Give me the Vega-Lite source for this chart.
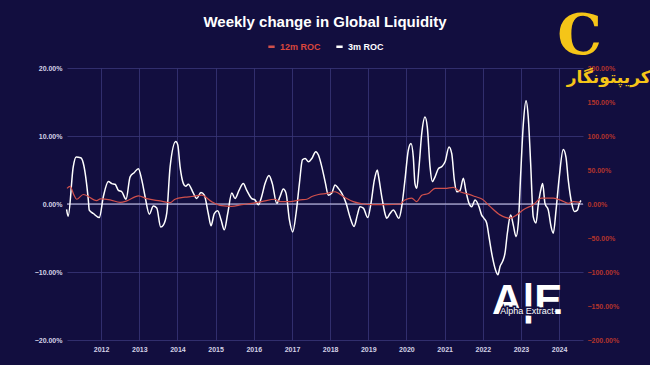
{
  "$schema": "https://vega.github.io/schema/vega-lite/v6.json",
  "autosize": "none",
  "width": 516,
  "height": 272,
  "padding": {"left": 67, "top": 68, "right": 67, "bottom": 25},
  "background": "#120e3f",
  "title": {
    "text": "Weekly change in Global Liquidity",
    "anchor": "middle",
    "frame": "group",
    "offset": -21,
    "font": "Liberation Sans",
    "fontSize": 15,
    "fontWeight": "bold",
    "color": "#ffffff"
  },
  "config": {
    "view": {"stroke": null},
    "font": "Liberation Sans",
    "axis": {
      "labelFont": "Liberation Sans",
      "labelFontSize": 7,
      "labelFontWeight": "bold",
      "labelColor": "#d4d2e6",
      "domain": false,
      "ticks": false,
      "gridColor": "#3a3778",
      "gridWidth": 0.8,
      "title": null
    }
  },
  "datasets": {
    "roc3m": [
      {"date": "2011-02-05", "value": -0.8},
      {"date": "2011-02-20", "value": -1.8},
      {"date": "2011-04-10", "value": 5.5},
      {"date": "2011-05-07", "value": 6.9},
      {"date": "2011-06-20", "value": 6.8},
      {"date": "2011-07-15", "value": 6.0},
      {"date": "2011-09-01", "value": 0.6},
      {"date": "2011-09-10", "value": -0.9},
      {"date": "2011-10-19", "value": -1.4},
      {"date": "2011-12-15", "value": -2.0},
      {"date": "2012-01-23", "value": 1.1},
      {"date": "2012-03-11", "value": 3.3},
      {"date": "2012-04-13", "value": 3.0},
      {"date": "2012-05-14", "value": 2.9},
      {"date": "2012-06-15", "value": 2.0},
      {"date": "2012-07-17", "value": 1.8},
      {"date": "2012-08-27", "value": 0.7},
      {"date": "2012-10-05", "value": 4.0},
      {"date": "2012-11-12", "value": 4.6},
      {"date": "2012-12-23", "value": 5.2},
      {"date": "2013-01-25", "value": 3.5},
      {"date": "2013-02-25", "value": 1.1},
      {"date": "2013-04-07", "value": -1.5},
      {"date": "2013-05-15", "value": -0.3},
      {"date": "2013-06-17", "value": -0.6},
      {"date": "2013-07-25", "value": -3.4},
      {"date": "2013-08-19", "value": -3.1},
      {"date": "2013-09-21", "value": -1.3},
      {"date": "2013-10-23", "value": 5.5},
      {"date": "2013-12-16", "value": 9.2},
      {"date": "2014-01-04", "value": 8.7},
      {"date": "2014-01-26", "value": 5.5},
      {"date": "2014-02-27", "value": 3.0},
      {"date": "2014-03-21", "value": 2.6},
      {"date": "2014-04-15", "value": 2.9},
      {"date": "2014-06-02", "value": 1.6},
      {"date": "2014-07-04", "value": 0.8},
      {"date": "2014-08-14", "value": 1.7},
      {"date": "2014-09-15", "value": 1.3},
      {"date": "2014-10-23", "value": -1.4},
      {"date": "2014-11-18", "value": -3.2},
      {"date": "2014-12-20", "value": -1.4},
      {"date": "2015-01-21", "value": -1.0},
      {"date": "2015-02-22", "value": -2.3},
      {"date": "2015-03-25", "value": -3.8},
      {"date": "2015-04-27", "value": -1.4},
      {"date": "2015-06-05", "value": 1.6},
      {"date": "2015-07-06", "value": 0.8},
      {"date": "2015-08-13", "value": 2.0},
      {"date": "2015-09-23", "value": 3.0},
      {"date": "2015-10-26", "value": 2.0},
      {"date": "2015-12-13", "value": 0.8},
      {"date": "2016-01-13", "value": 0.6},
      {"date": "2016-02-14", "value": -0.1},
      {"date": "2016-03-17", "value": 1.1},
      {"date": "2016-04-18", "value": 3.0},
      {"date": "2016-05-26", "value": 4.2},
      {"date": "2016-06-27", "value": 3.0},
      {"date": "2016-08-08", "value": 0.1},
      {"date": "2016-09-09", "value": 1.1},
      {"date": "2016-10-10", "value": 2.2},
      {"date": "2016-11-05", "value": 1.6},
      {"date": "2016-12-07", "value": -2.3},
      {"date": "2017-01-08", "value": -4.1},
      {"date": "2017-02-09", "value": -1.4},
      {"date": "2017-03-13", "value": 3.0},
      {"date": "2017-04-11", "value": 6.5},
      {"date": "2017-05-07", "value": 6.7},
      {"date": "2017-06-08", "value": 6.2},
      {"date": "2017-07-10", "value": 6.7},
      {"date": "2017-08-17", "value": 7.7},
      {"date": "2017-09-11", "value": 7.2},
      {"date": "2017-10-13", "value": 5.5},
      {"date": "2017-11-14", "value": 3.3},
      {"date": "2017-12-15", "value": 1.3},
      {"date": "2018-01-17", "value": 1.6},
      {"date": "2018-02-17", "value": 2.8},
      {"date": "2018-03-21", "value": 2.3},
      {"date": "2018-04-22", "value": 1.6},
      {"date": "2018-06-03", "value": 0.1},
      {"date": "2018-07-10", "value": -1.9},
      {"date": "2018-08-18", "value": -3.3},
      {"date": "2018-09-19", "value": -1.6},
      {"date": "2018-10-14", "value": -0.4},
      {"date": "2018-11-15", "value": -0.6},
      {"date": "2018-12-27", "value": -2.0},
      {"date": "2019-01-27", "value": 0.1},
      {"date": "2019-02-28", "value": 3.5},
      {"date": "2019-03-29", "value": 5.0},
      {"date": "2019-04-07", "value": 4.3},
      {"date": "2019-05-10", "value": 1.1},
      {"date": "2019-06-10", "value": -1.4},
      {"date": "2019-06-27", "value": -2.1},
      {"date": "2019-07-28", "value": -1.4},
      {"date": "2019-08-29", "value": -0.9},
      {"date": "2019-10-22", "value": -2.1},
      {"date": "2019-11-17", "value": -0.4},
      {"date": "2019-12-18", "value": 3.5},
      {"date": "2020-01-19", "value": 7.9},
      {"date": "2020-02-14", "value": 8.9},
      {"date": "2020-03-07", "value": 6.9},
      {"date": "2020-03-23", "value": 3.0},
      {"date": "2020-04-09", "value": 2.3},
      {"date": "2020-05-01", "value": 5.5},
      {"date": "2020-05-27", "value": 10.4},
      {"date": "2020-06-27", "value": 12.8},
      {"date": "2020-07-19", "value": 11.3},
      {"date": "2020-08-14", "value": 5.5},
      {"date": "2020-09-05", "value": 3.3},
      {"date": "2020-10-01", "value": 4.0},
      {"date": "2020-11-02", "value": 5.2},
      {"date": "2020-12-04", "value": 5.5},
      {"date": "2021-01-05", "value": 6.2},
      {"date": "2021-02-12", "value": 8.4},
      {"date": "2021-03-10", "value": 7.4},
      {"date": "2021-04-04", "value": 3.5},
      {"date": "2021-04-27", "value": 1.8},
      {"date": "2021-05-28", "value": 2.0},
      {"date": "2021-06-29", "value": 3.8},
      {"date": "2021-07-22", "value": 2.0},
      {"date": "2021-08-22", "value": 0.1},
      {"date": "2021-09-17", "value": -0.4},
      {"date": "2021-10-19", "value": 0.6},
      {"date": "2021-11-26", "value": -0.4},
      {"date": "2021-12-20", "value": -1.6},
      {"date": "2022-01-12", "value": -2.1},
      {"date": "2022-02-07", "value": -2.8},
      {"date": "2022-03-01", "value": -4.8},
      {"date": "2022-04-02", "value": -7.7},
      {"date": "2022-05-03", "value": -9.7},
      {"date": "2022-05-26", "value": -10.4},
      {"date": "2022-06-15", "value": -9.2},
      {"date": "2022-07-11", "value": -8.4},
      {"date": "2022-08-02", "value": -7.2},
      {"date": "2022-08-24", "value": -4.3},
      {"date": "2022-09-25", "value": -1.6},
      {"date": "2022-10-20", "value": -3.1},
      {"date": "2022-11-15", "value": -4.8},
      {"date": "2022-12-07", "value": -2.8},
      {"date": "2022-12-30", "value": 4.5},
      {"date": "2023-01-24", "value": 11.8},
      {"date": "2023-02-19", "value": 15.2},
      {"date": "2023-03-12", "value": 12.8},
      {"date": "2023-04-04", "value": 6.0},
      {"date": "2023-04-29", "value": -1.9},
      {"date": "2023-05-25", "value": -2.8},
      {"date": "2023-06-16", "value": -0.1},
      {"date": "2023-07-09", "value": 2.0},
      {"date": "2023-07-28", "value": 3.0},
      {"date": "2023-08-19", "value": 0.1},
      {"date": "2023-09-20", "value": -0.9},
      {"date": "2023-10-16", "value": -3.3},
      {"date": "2023-11-07", "value": -4.3},
      {"date": "2023-12-03", "value": -0.9},
      {"date": "2024-01-03", "value": 4.0},
      {"date": "2024-02-10", "value": 8.0},
      {"date": "2024-03-07", "value": 6.9},
      {"date": "2024-03-29", "value": 3.5},
      {"date": "2024-05-01", "value": 0.1},
      {"date": "2024-05-26", "value": -1.1},
      {"date": "2024-06-24", "value": -0.9},
      {"date": "2024-07-13", "value": 0.1},
      {"date": "2024-07-29", "value": 0.5}
    ],
    "roc12m": [
      {"date": "2011-02-09", "value": 23},
      {"date": "2011-03-10", "value": 26},
      {"date": "2011-04-17", "value": 13},
      {"date": "2011-05-12", "value": 7},
      {"date": "2011-07-15", "value": 14},
      {"date": "2011-11-20", "value": 5},
      {"date": "2011-12-25", "value": 7.5},
      {"date": "2012-03-27", "value": 6},
      {"date": "2012-07-01", "value": 2.5},
      {"date": "2012-09-03", "value": 4.5},
      {"date": "2012-12-23", "value": 12},
      {"date": "2013-03-13", "value": 8},
      {"date": "2013-07-18", "value": 4.5},
      {"date": "2013-10-23", "value": 2},
      {"date": "2013-12-09", "value": 7},
      {"date": "2014-03-14", "value": 10},
      {"date": "2014-05-17", "value": 11},
      {"date": "2014-08-21", "value": 13},
      {"date": "2014-11-24", "value": 3.5},
      {"date": "2015-02-28", "value": -2.5},
      {"date": "2015-06-05", "value": -3.5},
      {"date": "2015-09-08", "value": -1},
      {"date": "2015-12-13", "value": 1},
      {"date": "2016-03-17", "value": 3.5},
      {"date": "2016-07-23", "value": 7},
      {"date": "2016-09-09", "value": 3.5},
      {"date": "2016-12-14", "value": 3.5},
      {"date": "2017-03-20", "value": 6},
      {"date": "2017-05-23", "value": 7},
      {"date": "2017-07-10", "value": 11},
      {"date": "2017-09-11", "value": 14},
      {"date": "2017-11-30", "value": 15.5},
      {"date": "2018-02-17", "value": 18},
      {"date": "2018-05-07", "value": 11},
      {"date": "2018-08-11", "value": 3.5},
      {"date": "2018-11-15", "value": 0},
      {"date": "2019-02-18", "value": -1},
      {"date": "2019-06-10", "value": -1},
      {"date": "2019-10-31", "value": 0},
      {"date": "2019-12-18", "value": 6},
      {"date": "2020-02-21", "value": 8.5},
      {"date": "2020-04-09", "value": 3.5},
      {"date": "2020-05-27", "value": 13},
      {"date": "2020-07-29", "value": 15.5},
      {"date": "2020-10-01", "value": 23},
      {"date": "2021-01-05", "value": 23},
      {"date": "2021-03-25", "value": 24.5},
      {"date": "2021-05-28", "value": 18},
      {"date": "2021-08-15", "value": 14.5},
      {"date": "2021-10-19", "value": 11},
      {"date": "2021-12-28", "value": 7},
      {"date": "2022-03-11", "value": -3.5},
      {"date": "2022-06-15", "value": -16},
      {"date": "2022-09-18", "value": -21},
      {"date": "2022-11-22", "value": -16},
      {"date": "2023-01-24", "value": -8.5},
      {"date": "2023-04-29", "value": -1},
      {"date": "2023-07-18", "value": 8.5},
      {"date": "2023-11-07", "value": 8.5},
      {"date": "2024-01-26", "value": 5},
      {"date": "2024-03-29", "value": 1},
      {"date": "2024-05-17", "value": 3.5},
      {"date": "2024-07-20", "value": 2.5}
    ],
    "marks": [
      {"label": "A|E", "date": "2023-03-01", "value": -14.2},
      {"label": "Alpha Extract", "date": "2023-03-01", "value": -15.75},
      {"label": "کریپتونگار", "date": "2025-04-20", "value": 18.6},
      {"label": "C", "date": "2024-07-15", "value": 24.5}
    ]
  },
  "encoding": {
    "x": {
      "field": "date",
      "type": "temporal",
      "scale": {"domain": ["2011-02-09", "2024-08-17"]},
      "axis": {
        "format": "%Y",
        "tickCount": {"interval": "year", "step": 1},
        "labelPadding": 5,
        "grid": true,
        "labelFlush": false,
        "labelOverlap": false
      }
    }
  },
  "layer": [
    {
      "layer": [
        {
          "data": {"values": [{}]},
          "mark": {"type": "rule", "color": "#d6d3f2", "strokeWidth": 1},
          "encoding": {"y": {"datum": 0, "type": "quantitative"}, "x": null}
        },
        {
          "data": {"name": "marks"},
          "transform": [{"filter": "datum.label === 'A|E'"}],
          "mark": {"type": "text", "font": "Liberation Sans", "fontSize": 42, "fontWeight": "bold", "color": "#ffffff", "baseline": "middle", "align": "center"},
          "encoding": {
            "y": {"field": "value", "type": "quantitative"},
            "text": {"field": "label"}
          }
        },
        {
          "data": {"name": "marks"},
          "transform": [{"filter": "datum.label === 'Alpha Extract'"}],
          "mark": {"type": "text", "font": "Liberation Sans", "fontSize": 9, "color": "#ffffff", "baseline": "middle", "align": "center", "stroke": "#120e3f", "strokeWidth": 3, "strokeOpacity": 1},
          "encoding": {
            "y": {"field": "value", "type": "quantitative"},
            "text": {"field": "label"}
          }
        },
        {
          "data": {"name": "marks"},
          "transform": [{"filter": "datum.label === 'Alpha Extract'"}],
          "mark": {"type": "text", "font": "Liberation Sans", "fontSize": 9, "color": "#ffffff", "baseline": "middle", "align": "center"},
          "encoding": {
            "y": {"field": "value", "type": "quantitative"},
            "text": {"field": "label"}
          }
        },
        {
          "data": {"name": "marks"},
          "transform": [{"filter": "datum.label === 'کریپتونگار'"}],
          "mark": {"type": "text", "font": "DejaVu Sans", "fontSize": 17, "fontWeight": "bold", "color": "#f5c518", "baseline": "middle", "align": "center"},
          "encoding": {
            "y": {"field": "value", "type": "quantitative"},
            "text": {"field": "label"}
          }
        },
        {
          "data": {"name": "marks"},
          "transform": [{"filter": "datum.label === 'C'"}],
          "mark": {"type": "text", "font": "DejaVu Serif", "fontSize": 56, "fontWeight": "bold", "color": "#f5c518", "baseline": "middle", "align": "center"},
          "encoding": {
            "y": {"field": "value", "type": "quantitative"},
            "text": {"field": "label"}
          }
        },
        {
          "data": {"name": "roc3m"},
          "mark": {"type": "line", "strokeWidth": 1.5, "interpolate": "monotone"},
          "encoding": {
            "y": {
              "field": "value",
              "type": "quantitative",
              "scale": {"domain": [-20, 20]},
              "axis": {
                "values": [-20, -10, 0, 10, 20],
                "labelExpr": "format(datum.value, '.2f') + '%'",
                "labelPadding": 5,
                "grid": true
              }
            },
            "color": {
              "datum": "3m ROC",
              "type": "nominal",
              "scale": {"domain": ["12m ROC", "3m ROC"], "range": ["#d0504c", "#ffffff"]},
              "legend": {
                "orient": "none",
                "legendX": 200,
                "legendY": -26,
                "direction": "horizontal",
                "title": null,
                "symbolType": "stroke",
                "symbolSize": 40,
                "symbolStrokeWidth": 2.5,
                "labelFont": "Liberation Sans",
                "labelFontSize": 9,
                "labelFontWeight": "bold",
                "columnPadding": 10,
                "labelOffset": 4,
                "encode": {
                  "labels": {"update": {"fill": {"signal": "datum.label === '12m ROC' ? '#d9463c' : '#ffffff'"}}}
                }
              }
            }
          }
        }
      ]
    },
    {
      "data": {"name": "roc12m"},
      "mark": {"type": "line", "strokeWidth": 1.2, "interpolate": "monotone"},
      "encoding": {
        "y": {
          "field": "value",
          "type": "quantitative",
          "scale": {"domain": [-200, 200]},
          "axis": {
            "orient": "right",
            "values": [-200, -150, -100, -50, 0, 50, 100, 150, 200],
            "labelExpr": "format(datum.value, '.2f') + '%'",
            "labelColor": "#b3342c",
            "labelPadding": 4,
            "grid": false
          }
        },
        "color": {"datum": "12m ROC", "type": "nominal"}
      }
    }
  ],
  "resolve": {"scale": {"y": "independent"}}
}
